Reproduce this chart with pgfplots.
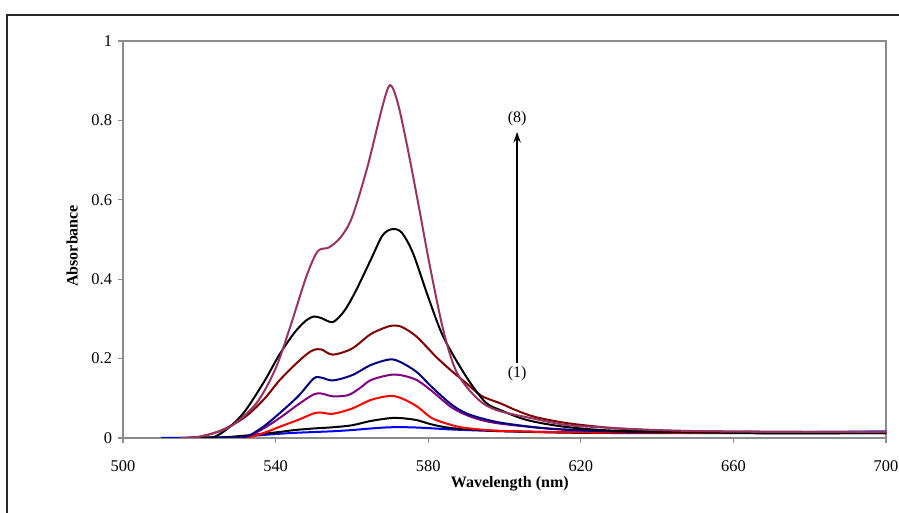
\documentclass[border=0pt]{standalone}
\usepackage{fontspec}
\setmainfont{Liberation Serif}
\usepackage{pgfplots}
\pgfplotsset{compat=1.18}
\usetikzlibrary{arrows.meta}
\definecolor{cA}{RGB}{0,0,255}
\definecolor{cB}{RGB}{0,0,0}
\definecolor{cC}{RGB}{255,0,0}
\definecolor{cD}{RGB}{128,0,128}
\definecolor{cE}{RGB}{0,0,128}
\definecolor{cF}{RGB}{128,0,0}
\definecolor{cG}{RGB}{0,0,0}
\definecolor{cH}{RGB}{153,51,102}
\definecolor{axgrey}{RGB}{140,140,140}
\begin{document}
\begin{tikzpicture}[font=\fontsize{12pt}{14pt}\selectfont]
\path[use as bounding box] (-92.25pt,-56.25pt) rectangle (582pt,328.5pt);
\draw[line width=1.1pt, black!85] (-87pt,-70pt) -- (-87pt,317.25pt) -- (600pt,317.25pt);
\begin{axis}[
  at={(0,0)}, anchor=south west,
  scale only axis, width=572.25pt, height=297.75pt,
  xmin=500, xmax=700, ymin=0, ymax=1,
  xtick={500,540,580,620,660,700},
  xticklabels={500,540,580,620,660,700},
  ytick={0,0.2,0.4,0.6,0.8,1},
  yticklabels={0,0.2,0.4,0.6,0.8,1},
  tick align=outside, major tick length=3.75pt,
  axis line style={axgrey, line width=0.9pt},
  tick style={axgrey, line width=0.9pt},
  xtick pos=bottom, ytick pos=left,
  tick label style={font=\fontsize{12.3pt}{14pt}\selectfont},
  xticklabel style={yshift=-9.5pt},
  yticklabel style={xshift=-1pt},
  xlabel={\textbf{Wavelength (nm)}},
  ylabel={\textbf{Absorbance}},
  every axis x label/.style={at={(axis description cs:0.507,-0.116)}, anchor=center},
  every axis y label/.style={at={(axis description cs:-0.0668,0.484)}, rotate=90, anchor=center},
  every axis plot/.append style={line width=1.5pt, smooth, no markers},
  clip=true,
]
% (1) blue
\addplot[cA] coordinates {(510,0) (520,0.001) (530,0.003) (540,0.010) (545,0.013) (550,0.015) (555,0.017) (560,0.020) (565,0.024) (570,0.027) (575,0.027) (580,0.025) (585,0.022) (590,0.020) (600,0.017) (620,0.014) (640,0.013) (660,0.014) (680,0.015) (700,0.016)};
% (2) black
\addplot[cB] coordinates {(515,0) (525,0.001) (532,0.006) (540,0.014) (545,0.020) (550,0.024) (555,0.027) (560,0.032) (565,0.043) (570,0.050) (573,0.050) (577,0.045) (581,0.034) (586,0.025) (594,0.020) (600,0.017) (620,0.013) (660,0.012) (700,0.012)};
% (3) red
\addplot[cC] coordinates {(520,0) (530,0.0) (533,0.002) (537,0.013) (541,0.028) (546,0.046) (550,0.062) (552,0.064) (555,0.061) (560,0.074) (565,0.096) (570,0.106) (573,0.100) (577,0.080) (581,0.050) (586,0.033) (590,0.025) (599,0.018) (620,0.014) (660,0.013) (700,0.013)};
% (4) purple
\addplot[cD] coordinates {(520,0) (530,0.001) (533,0.005) (537,0.025) (541,0.050) (546,0.085) (550,0.110) (552,0.112) (555,0.105) (559,0.108) (562,0.125) (565,0.146) (570,0.159) (573,0.158) (577,0.146) (581,0.118) (586,0.078) (590,0.058) (594,0.045) (599,0.036) (610,0.025) (620,0.020) (640,0.016) (700,0.014)};
% (5) navy
\addplot[cE] coordinates {(520,0) (530,0.001) (533,0.006) (537,0.030) (541,0.062) (546,0.106) (550,0.150) (552,0.152) (555,0.145) (560,0.158) (565,0.184) (570,0.198) (573,0.190) (577,0.166) (581,0.128) (586,0.085) (590,0.062) (595,0.047) (600,0.037) (610,0.025) (620,0.019) (640,0.015) (700,0.016)};
% (6) maroon
\addplot[cF] coordinates {(515,0) (520,0.003) (526,0.020) (532,0.053) (537,0.098) (541,0.145) (545,0.184) (548,0.210) (550,0.222) (552,0.223) (555,0.210) (560,0.225) (565,0.262) (570,0.282) (573,0.280) (577,0.255) (582,0.205) (586,0.170) (590,0.138) (594,0.106) (599,0.087) (603,0.070) (608,0.053) (616,0.038) (625,0.028) (633,0.022) (650,0.017) (700,0.014)};
% (7) black
\addplot[cG] coordinates {(520,0) (524,0.003) (528,0.028) (532,0.068) (537,0.142) (541,0.210) (545,0.266) (548,0.296) (550,0.306) (552,0.302) (555,0.292) (558,0.320) (561,0.370) (565,0.450) (568,0.510) (570.5,0.526) (573,0.518) (576,0.466) (580,0.355) (584,0.254) (590,0.154) (595,0.090) (599,0.070) (606,0.045) (616,0.028) (630,0.018) (660,0.013) (700,0.012)};
% (8) magenta
\addplot[cH] coordinates {(515,0) (520,0.003) (528,0.028) (535,0.088) (540,0.175) (544,0.285) (548,0.405) (551,0.470) (554,0.480) (557,0.505) (560,0.555) (564,0.680) (568,0.835) (570,0.889) (572,0.845) (574.5,0.735) (577.5,0.585) (580.5,0.430) (584,0.270) (587.5,0.165) (593,0.098) (598,0.070) (607,0.050) (616,0.033) (625,0.027) (640,0.020) (660,0.016) (700,0.015)};
\draw[-{Stealth[length=8pt,width=5.5pt]}, line width=1pt] (axis cs:603.3,0.189) -- (axis cs:603.3,0.771);
\node at (axis cs:603.3,0.804) {(8)};
\node at (axis cs:603.3,0.161) {(1)};
\end{axis}
\end{tikzpicture}
\end{document}
